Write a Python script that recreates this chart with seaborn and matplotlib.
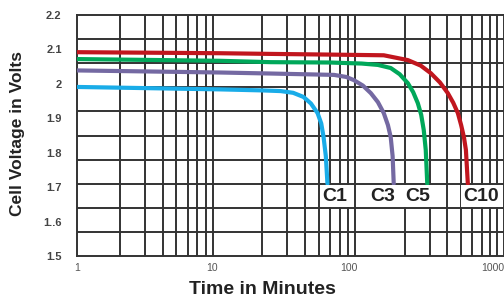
import numpy as np
import pandas as pd
import matplotlib
matplotlib.use('Agg')
from matplotlib import pyplot as plt
from matplotlib.ticker import FixedLocator, NullFormatter
from matplotlib.transforms import ScaledTranslation
import seaborn as sns

# Discharge curves (time in minutes, cell voltage).
c1_time = [1, 10, 20, 27, 33, 39, 44, 49, 52, 54, 56, 57.5]
c1_volt = [1.991, 1.984, 1.981, 1.979, 1.974, 1.962, 1.943, 1.915, 1.885, 1.845, 1.79, 1.71]

c3_time = [1, 10, 23, 50, 64, 78, 88, 102, 116, 130, 143, 153, 160, 165, 168]
c3_volt = [2.039, 2.033, 2.030, 2.027, 2.026, 2.020, 2.011, 1.995, 1.973, 1.947, 1.915, 1.88, 1.845, 1.79, 1.71]

c5_time = [1, 10, 23, 60, 100, 130, 160, 185, 211, 230, 248, 262, 273, 282, 289]
c5_volt = [2.072, 2.067, 2.063, 2.062, 2.059, 2.055, 2.046, 2.028, 2.002, 1.976, 1.944, 1.91, 1.866, 1.808, 1.71]

c10_time = [1, 10, 23, 60, 143, 211, 260, 306, 355, 403, 440, 474, 500, 523, 540, 557]
c10_volt = [2.092, 2.089, 2.087, 2.085, 2.083, 2.069, 2.053, 2.031, 2.004, 1.973, 1.945, 1.915, 1.88, 1.845, 1.808, 1.71]

rates = ['C1', 'C3', 'C5', 'C10']
colors = {'C1': '#19ace8', 'C3': '#7469a2', 'C5': '#00a85a', 'C10': '#c1161e'}
label_x = {'C1': 65, 'C3': 141, 'C5': 249, 'C10': 690}
label_y = 1.674

x_ticks = [1, 10, 100, 1000]
x_tick_labels = ['1', '10', '100', '1000']
y_ticks = [1.5, 1.6, 1.7, 1.8, 1.9, 2.0, 2.1, 2.2]
y_tick_labels = ['1.5', '1..6', '1.7', '1.8', '1.9', '2', '2.1', '2.2']

frames = []
for name, t, v in [('C1', c1_time, c1_volt), ('C3', c3_time, c3_volt),
                   ('C5', c5_time, c5_volt), ('C10', c10_time, c10_volt)]:
    frames.append(pd.DataFrame({'time': t, 'volt': v, 'rate': name}))
df = pd.concat(frames, ignore_index=True)

sns.set_style('white')
plt.rcParams['font.family'] = ['Liberation Sans', 'DejaVu Sans']

fig = plt.figure(figsize=(5.04, 3.01), dpi=100)
ax = fig.add_axes([77 / 504, 1 - 256 / 301, 427 / 504, 241 / 301])

sns.lineplot(data=df, x='time', y='volt', hue='rate', hue_order=rates,
             palette=colors, linewidth=3.0, legend=False, ax=ax, zorder=3)

ax.set_xscale('log')
ax.set_xlim(1, 1000)
ax.set_ylim(1.5, 2.2)

# Grid: log minor lines on x, ten even bands on y (not aligned with labels).
ax.xaxis.set_major_locator(FixedLocator(x_ticks))
ax.set_xticklabels(x_tick_labels)
minor_x = [m * 10 ** d for d in range(3) for m in range(1, 10)] + [1000]
ax.xaxis.set_minor_locator(FixedLocator(minor_x))
ax.xaxis.set_minor_formatter(NullFormatter())
ax.set_yticks(y_ticks)
ax.set_yticklabels(y_tick_labels)
ax.yaxis.set_minor_locator(FixedLocator(np.linspace(1.5, 2.2, 11)))

ax.grid(False)
ax.grid(which='minor', color='#333333', linewidth=1.4)
ax.tick_params(which='both', length=0)
ax.tick_params(axis='x', pad=5, labelsize=7.5, labelcolor='#555555')
ax.tick_params(axis='y', pad=11, labelsize=8)
for lbl in ax.get_yticklabels():
    lbl.set_fontweight('bold')
    lbl.set_color('#444444')

# the reference's x labels sit a little left of the grid decades
shifts = [0, -7, -13, -11]
for lbl, dx in zip(ax.get_xticklabels(), shifts):
    lbl.set_transform(lbl.get_transform() + ScaledTranslation(dx / 100, 0, fig.dpi_scale_trans))

for s in ax.spines.values():
    s.set_color('#333333')
    s.set_linewidth(1.4)

for r in rates:
    ax.text(label_x[r], label_y, r, ha='center', va='center', fontsize=14,
            fontweight='bold', color='#222222', zorder=5,
            bbox=dict(facecolor='white', edgecolor='none', pad=1.5))

ax.set_xlabel('')
ax.set_ylabel('')
fig.text(262 / 504, 1 - 290 / 301, 'Time in Minutes', ha='center', va='center',
         fontsize=14, fontweight='bold', color='#222222')
fig.text(18 / 504, 1 - 133 / 301, 'Cell Voltage in Volts', ha='center', va='center',
         rotation=90, fontsize=12.5, fontweight='bold', color='#222222')

fig.savefig('out.png', dpi=100)
